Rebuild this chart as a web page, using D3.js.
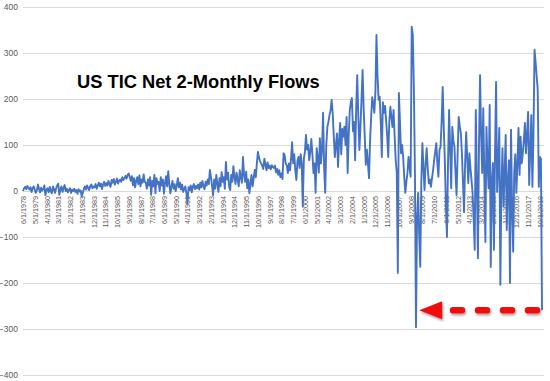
<!DOCTYPE html>
<html><head><meta charset="utf-8">
<script src="https://cdn.jsdelivr.net/npm/d3@7"></script>
<style>html,body{margin:0;padding:0;background:#fff;}svg{display:block;font-family:"Liberation Sans",Arial,sans-serif;}</style>
</head><body>
<svg id="c" width="550" height="381"></svg>
<script>
// Monthly series, June 1978 .. December 2018 (billions USD)
const startMonth = "1978-06-01";
const v1978 = [0, 6, 9, 4, 11, 7, 3];
const v1979 = [8, -2, 6, 10, 3, -4, 2, 14, 5, -3, 7, 1];
const v1980 = [4, 12, -9, 2, 6, -3, 9, 0, -5, 10, 3, -4];
const v1981 = [6, 12, 16, -8, 3, 10, -2, 7, 13, 0, 5, -3];
const v1982 = [2, 6, -4, 3, 0, 5, -2, 2, -6, 4, -1, 1];
const v1983 = [-12, -4, 5, 10, 3, 12, 7, 2, 11, 14, 6, 10];
const v1984 = [8, 15, 5, 12, 18, 10, 16, 4, 14, 20, 11, 17];
const v1985 = [12, 22, 15, 9, 24, 18, 26, 14, 20, 27, 16, 22];
const v1986 = [25, 20, 30, 24, 28, 33, 27, 35, 38, 30, 22, 32];
const v1987 = [12, 28, 8, 22, 30, 15, 34, 10, 25, 18, 36, 20];
const v1988 = [18, 5, 25, 12, 30, -8, 22, 10, 35, -5, 28, 15];
const v1989 = [20, 0, 30, 12, 25, -6, 18, 32, 10, 43, 15, -5];
const v1990 = [10, 22, 5, 15, 0, 12, 28, 8, 18, 3, 14, -2];
const v1991 = [5, 10, -5, -28, 8, 2, 12, -3, 9, 15, 4, 11];
const v1992 = [6, 14, 3, 18, 8, 22, 10, 4, 20, 12, 25, 15];
const v1993 = [46, 30, 12, -9, 25, 5, 35, 15, -2, 28, 10, 41];
const v1994 = [20, 30, 5, 63, 25, 40, 10, 2, 35, 20, 54, 30];
const v1995 = [15, 40, 25, 10, 45, 30, 18, 74, 35, 20, 42, 6];
const v1996 = [25, -5, 15, 35, 10, 28, 46, 30, 60, 85, 72, 65];
const v1997 = [60, 55, 48, 70, 58, 45, 62, 50, 55, 47, 56, 52];
const v1998 = [50, 55, 40, 48, 35, 45, 30, 38, 26, 82, 78, 60];
const v1999 = [55, 39, 60, 45, 70, 106, 60, 80, 45, 24, 65, 74];
const v2000 = [50, 80, 60, -34, 70, 85, 122, 90, 100, 67, 85, 113];
const v2001 = [80, 39, 60, -4, 93, 70, 40, 115, 60, 90, 170, 50];
const v2002 = [-4, 100, 139, 150, 165, 175, 198, 170, 120, 74, 100, 125];
const v2003 = [52, 110, 148, 80, 135, 118, 140, 100, 161, 39, 120, 175];
const v2004 = [193, 202, 130, 150, 67, 180, 252, 160, 89, 140, 200, 263];
const v2005 = [180, 120, 57, 90, 60, 28, 110, 160, 204, 190, 170, 215];
const v2006 = [339, 250, 198, 205, 150, 74, 193, 170, 185, 154, 120, 74];
const v2007 = [150, 183, 160, 139, 176, 120, 67, 40, -178, 213, 150, 82];
const v2008 = [100, 74, 30, -4, 20, 39, 74, 50, 31, 357, 340, 226];
const v2009 = [40, -296, -60, -4, -95, -165, 20, 104, 50, 2, 60, 93];
const v2010 = [50, 17, 25, 9, 28, 45, 67, 85, 104, 60, 31, 89];
const v2011 = [96, 150, 226, 140, 67, -30, -100, 60, 176, 90, 6, 139];
const v2012 = [110, 96, 40, -9, 80, 161, 140, 126, 82, 20, -46, 60];
const v2013 = [128, 70, 17, 82, 50, 24, -4, -60, -128, 176, 20, -146];
const v2014 = [100, 252, 120, 39, 180, 30, -111, 139, 60, 6, 187, -165];
const v2015 = [20, 61, -128, 80, 237, -2, 60, 137, -204, 10, 93, -34];
const v2016 = [40, 122, -85, 20, 67, -200, 133, -40, -132, 41, 80, -4];
const v2017 = [60, 137, 35, 118, 60, 82, 110, 148, 82, 125, 172, 13];
const v2018 = [90, 165, 9, 120, 307, 280, 250, 220, 9, 74, 70, -259];

const yTicks = [-400, -300, -200, -100, 0, 100, 200, 300, 400];
const tickEvery = 11; // one category label every 11 months
const titleText = "US TIC Net 2-Monthly Flows";
const arrowToCategory = "5/1/2009";

const values = [].concat(v1978, v1979, v1980, v1981, v1982, v1983, v1984, v1985, v1986, v1987,
  v1988, v1989, v1990, v1991, v1992, v1993, v1994, v1995, v1996, v1997, v1998, v1999, v2000,
  v2001, v2002, v2003, v2004, v2005, v2006, v2007, v2008, v2009, v2010, v2011, v2012, v2013,
  v2014, v2015, v2016, v2017, v2018);

const fmt = d3.utcFormat("%-m/%-d/%Y");
const start = new Date(startMonth + "T00:00:00Z");
const categories = values.map((v, i) => fmt(d3.utcMonth.offset(start, i)));
const data = values.map((v, i) => ({cat: categories[i], v}));

const svg = d3.select("#c");
const x = d3.scalePoint().domain(categories).range([23, 542]);
const y = d3.scaleLinear().domain([-400, 400]).range([375, 7]);

// gridlines
svg.append("g").selectAll("line").data(yTicks).join("line")
  .attr("x1", 23).attr("x2", 544)
  .attr("y1", d => y(d) + 0.5).attr("y2", d => y(d) + 0.5)
  .attr("stroke", "#d9d9d9").attr("stroke-width", 1);

// y axis labels
const yAxis = d3.axisLeft(y).tickValues(yTicks).tickSize(0).tickPadding(0);
const gy = svg.append("g").attr("transform", "translate(18,0)").call(yAxis);
gy.select(".domain").remove();
gy.selectAll("text").attr("font-size", "8.5px").attr("fill", "#595959")
  .attr("font-family", "'Liberation Sans', Arial, sans-serif");

// x axis labels (at value 0)
const xTickVals = categories.filter((c, i) => i % tickEvery === 0);
const xAxis = d3.axisBottom(x).tickValues(xTickVals).tickSize(0).tickPadding(0);
const gx = svg.append("g").attr("transform", `translate(0,${y(0)})`).call(xAxis);
gx.select(".domain").remove();
gx.selectAll("text")
  .attr("font-size", "7.2px").attr("fill", "#595959")
  .attr("font-family", "'Liberation Sans', Arial, sans-serif")
  .attr("transform", "rotate(-90)")
  .attr("text-anchor", "end")
  .attr("x", -5).attr("y", 0).attr("dy", "0.35em");

// the line
const line = d3.line().x(d => x(d.cat)).y(d => y(d.v));
svg.append("path").datum(data)
  .attr("d", line).attr("fill", "none")
  .attr("stroke", "#4472c4").attr("stroke-width", 1.9)
  .attr("stroke-linejoin", "round");

// title
svg.append("text").attr("x", 77).attr("y", 88)
  .attr("font-size", "18.3px").attr("font-weight", "bold").attr("fill", "#000")
  .attr("font-family", "'Liberation Sans', Arial, sans-serif")
  .text(titleText);

// red dashed arrow annotation
const defs = svg.append("defs");
const f = defs.append("filter").attr("id", "sh").attr("x", "-20%").attr("y", "-40%").attr("width", "160%").attr("height", "200%");
f.append("feDropShadow").attr("dx", 1).attr("dy", 2).attr("stdDeviation", 1.2)
  .attr("flood-color", "#000").attr("flood-opacity", 0.35);
const last = data[data.length - 1];
const ay = y(last.v);
const tipX = x(arrowToCategory);
const endX = x(last.cat) - 2;
const g = svg.append("g").attr("filter", "url(#sh)");
g.append("line").attr("x1", endX - 3).attr("x2", tipX + 27)
  .attr("y1", ay).attr("y2", ay)
  .attr("stroke", "#f00f0f").attr("stroke-width", 6.5)
  .attr("stroke-linecap", "round").attr("stroke-dasharray", "9,16");
g.append("path")
  .attr("d", `M${tipX},${ay} L${tipX + 23},${ay - 9} L${tipX + 23},${ay + 9} Z`)
  .attr("fill", "#f00f0f");
</script>
</body></html>
